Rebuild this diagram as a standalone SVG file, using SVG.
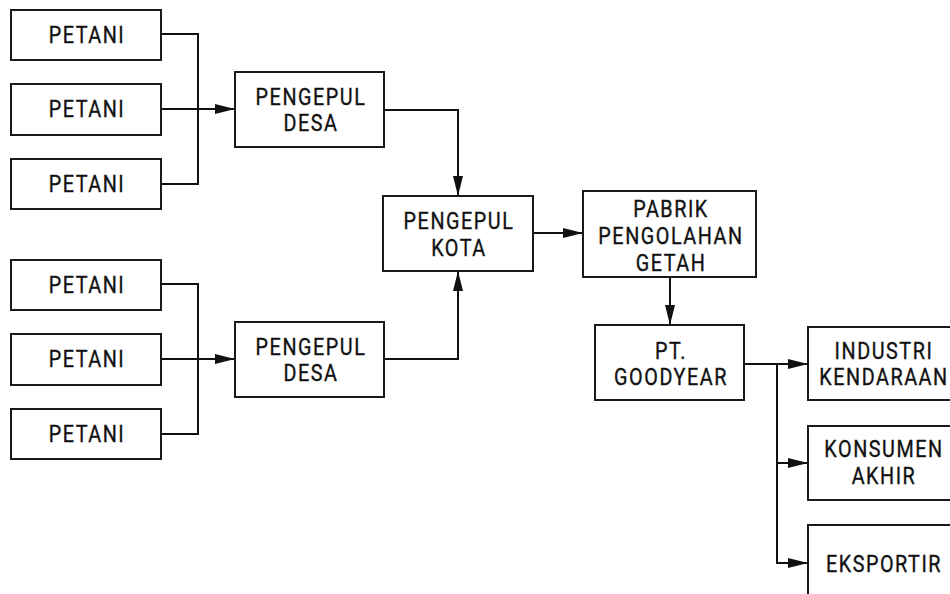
<svg xmlns="http://www.w3.org/2000/svg" width="950" height="594" viewBox="0 0 950 594">
<style>
.box{fill:#fff;stroke:#1a1a1a;stroke-width:2}
.t{font-family:Roboto,"DejaVu Sans",sans-serif;font-weight:400;font-size:23px;letter-spacing:1.8px;fill:#111;text-anchor:middle;stroke:#111;stroke-width:0.35px}
.c{fill:none;stroke:#111;stroke-width:2}
</style>
<defs>
<marker id="ah" markerUnits="userSpaceOnUse" markerWidth="21" markerHeight="11" refX="20" refY="5" orient="auto">
<path d="M0,0 L20,5 L0,10 z" fill="#111"/>
</marker>
</defs>
<rect width="950" height="594" fill="#fff"/>
<g id="connectors">
<path class="c" d="M161,34 H198 V184 H161"/>
<path class="c" d="M161,109 H235" marker-end="url(#ah)"/>
<path class="c" d="M161,284 H198 V434 H161"/>
<path class="c" d="M161,359 H235" marker-end="url(#ah)"/>
<path class="c" d="M384,110 H458 V196" marker-end="url(#ah)"/>
<path class="c" d="M384,359 H458 V271" marker-end="url(#ah)"/>
<path class="c" d="M533,233 H583" marker-end="url(#ah)"/>
<path class="c" d="M670,277 V325" marker-end="url(#ah)"/>
<path class="c" d="M744,364 H808" marker-end="url(#ah)"/>
<path class="c" d="M777,364 V563 H808" marker-end="url(#ah)"/>
<path class="c" d="M777,463 H808" marker-end="url(#ah)"/>
</g>
<g id="petani1"><rect class="box" x="11" y="10" width="150" height="50"/><text class="t" transform="translate(87,43) scale(0.86,1)">PETANI</text></g>
<g id="petani2"><rect class="box" x="11" y="84" width="150" height="51"/><text class="t" transform="translate(87,117) scale(0.86,1)">PETANI</text></g>
<g id="petani3"><rect class="box" x="11" y="159" width="150" height="50"/><text class="t" transform="translate(87,192) scale(0.86,1)">PETANI</text></g>
<g id="petani4"><rect class="box" x="11" y="260" width="150" height="50"/><text class="t" transform="translate(87,293) scale(0.86,1)">PETANI</text></g>
<g id="petani5"><rect class="box" x="11" y="334" width="150" height="51"/><text class="t" transform="translate(87,367) scale(0.86,1)">PETANI</text></g>
<g id="petani6"><rect class="box" x="11" y="409" width="150" height="50"/><text class="t" transform="translate(87,442) scale(0.86,1)">PETANI</text></g>
<g id="pengepul-desa-1"><rect class="box" x="235" y="72" width="149" height="75"/><text class="t" transform="translate(311,105) scale(0.86,1)">PENGEPUL</text><text class="t" transform="translate(311,131) scale(0.86,1)">DESA</text></g>
<g id="pengepul-desa-2"><rect class="box" x="235" y="322" width="149" height="75"/><text class="t" transform="translate(311,355) scale(0.86,1)">PENGEPUL</text><text class="t" transform="translate(311,381) scale(0.86,1)">DESA</text></g>
<g id="pengepul-kota"><rect class="box" x="383" y="196" width="150" height="75"/><text class="t" transform="translate(459,229) scale(0.86,1)">PENGEPUL</text><text class="t" transform="translate(459,256) scale(0.86,1)">KOTA</text></g>
<g id="pabrik"><rect class="box" x="583" y="191" width="173" height="86"/><text class="t" transform="translate(671,217) scale(0.86,1)">PABRIK</text><text class="t" transform="translate(671,244) scale(0.86,1)">PENGOLAHAN</text><text class="t" transform="translate(671,271) scale(0.86,1)">GETAH</text></g>
<g id="goodyear"><rect class="box" x="595" y="325" width="149" height="75"/><text class="t" transform="translate(671,359) scale(0.86,1)">PT.</text><text class="t" transform="translate(671,385) scale(0.86,1)">GOODYEAR</text></g>
<g id="industri"><rect class="box" x="808" y="327" width="160" height="73"/><text class="t" transform="translate(884,359) scale(0.86,1)">INDUSTRI</text><text class="t" transform="translate(884,385) scale(0.86,1)">KENDARAAN</text></g>
<g id="konsumen"><rect class="box" x="808" y="426" width="160" height="74"/><text class="t" transform="translate(884,457) scale(0.86,1)">KONSUMEN</text><text class="t" transform="translate(884,484) scale(0.86,1)">AKHIR</text></g>
<g id="eksportir"><rect class="box" x="808" y="525" width="160" height="80"/><text class="t" transform="translate(884,572) scale(0.86,1)">EKSPORTIR</text></g>
</svg>
